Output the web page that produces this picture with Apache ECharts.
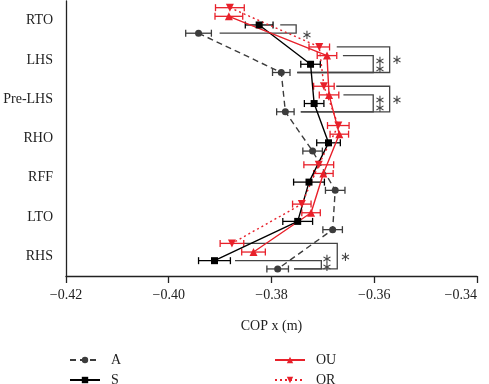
<!DOCTYPE html>
<html>
<head>
<meta charset="utf-8">
<script src="https://cdn.jsdelivr.net/npm/echarts@6/dist/echarts.min.js"></script>
<style>
    html, body {margin: 0; padding: 0; background: #fff;}
    #chart {width: 489px; height: 384px;}
</style>
</head>
<body>
<div id="chart"></div>
<script>
    // gait events, top to bottom
    const categories = ['RTO', 'LHS', 'Pre-LHS', 'RHO', 'RFF', 'LTO', 'RHS'];

    // mean COP x (m) and error for each condition
    const valuesA = [-0.3942, -0.3781, -0.3773, -0.3720, -0.3676, -0.3681, -0.3788];
    const errA = [0.0025, 0.0017, 0.0017, 0.0019, 0.0019, 0.0019, 0.0021];
    const valuesS = [-0.3824, -0.3724, -0.3717, -0.3689, -0.3727, -0.3749, -0.3911];
    const errS = [0.0027, 0.0019, 0.0019, 0.0023, 0.0030, 0.0029, 0.0031];
    const valuesOU = [-0.3883, -0.3692, -0.3688, -0.3668, -0.3699, -0.3723, -0.3835];
    const errOU = [0.0027, 0.0019, 0.0019, 0.0018, 0.0019, 0.0018, 0.0023];
    const valuesOR = [-0.3881, -0.3707, -0.3698, -0.3670, -0.3708, -0.3741, -0.3877];
    const errOR = [0.0028, 0.0020, 0.0020, 0.0021, 0.0029, 0.0018, 0.0023];

    const xTicks = [-0.42, -0.40, -0.38, -0.36, -0.34];

    // significance brackets: [category, top series, bottom series, x top start, x bottom start, x right]
    const brackets = [
        [0, 'S', 'A', -0.3783, -0.3901, -0.3752],
        [1, 'OR', 'A', -0.3673, -0.3750, -0.3570],
        [1, 'OU', 'A', -0.3661, -0.3750, -0.3602],
        [2, 'OR', 'A', -0.3674, -0.3743, -0.3570],
        [2, 'OU', 'A', -0.3660, -0.3743, -0.3602],
        [6, 'OR', 'A', -0.3855, -0.3756, -0.3672],
        [6, 'S', 'A', -0.3871, -0.3756, -0.3703]
    ];
    // asterisks: [x, category, position inside band, count]
    const stars = [
        [-0.3731, 0, 0.39, 1],
        [-0.3556, 1, 0.01, 1],
        [-0.3589, 1, 0.15, 2],
        [-0.3556, 2, 0.03, 1],
        [-0.3589, 2, 0.14, 2],
        [-0.3656, 6, 0.03, 1],
        [-0.3692, 6, 0.19, 2]
    ];

    // vertical offset of each condition inside a category band
    const level = {OR: -0.33, OU: -0.11, S: 0.11, A: 0.32};

    const red = '#e8202a';
    const gray = '#3c3c3c';
    const font = '"Liberation Serif", "DejaVu Serif", serif';

    function lineSeries(name, values, color, dash, symbol, size) {
        return {
            name: name,
            type: 'line',
            xAxisIndex: 0,
            yAxisIndex: 1,
            data: values.map((v, i) => [v, i + level[name]]),
            symbol: symbol,
            symbolSize: size,
            lineStyle: {color: color, width: 1.4, type: dash},
            itemStyle: {color: color},
            z: 4,
            animation: false
        };
    }

    function errorSeries(name, values, errs, color) {
        return {
            name: name + '-err',
            type: 'custom',
            xAxisIndex: 0,
            yAxisIndex: 1,
            dimensions: ['x', 'y', 'e'],
            encode: {x: 0, y: 1},
            data: values.map((v, i) => [v, i + level[name], errs[i]]),
            z: 3,
            animation: false,
            renderItem: function (params, api) {
                const x = api.value(0), y = api.value(1), e = api.value(2);
                const a = api.coord([x - e, y]);
                const b = api.coord([x + e, y]);
                const h = 3.5;
                const style = {stroke: color, lineWidth: 1.3, fill: null};
                return {
                    type: 'group',
                    children: [
                        {type: 'line', shape: {x1: a[0], y1: a[1], x2: b[0], y2: b[1]}, style: style},
                        {type: 'line', shape: {x1: a[0], y1: a[1] - h, x2: a[0], y2: a[1] + h}, style: style},
                        {type: 'line', shape: {x1: b[0], y1: b[1] - h, x2: b[0], y2: b[1] + h}, style: style}
                    ]
                };
            }
        };
    }

    function legendItem(name, left, top) {
        return {
            data: [name],
            left: left,
            top: top,
            itemWidth: 30,
            itemHeight: 8,
            textStyle: {fontFamily: font, fontSize: 14, color: '#222', padding: [0, 0, 0, 6]}
        };
    }

    const chart = echarts.init(document.getElementById('chart'));

    const option = {
        animation: false,
        grid: {left: 66, right: 12, top: 1, bottom: 108, outerBoundsMode: 'none'},
        legend: [
            legendItem('A', 64, 348),
            legendItem('S', 64, 368),
            legendItem('OU', 269, 348),
            legendItem('OR', 269, 368)
        ],
        xAxis: {
            type: 'value',
            min: xTicks[0],
            max: xTicks[xTicks.length - 1],
            interval: 0.02,
            name: 'COP x (m)',
            nameLocation: 'middle',
            nameGap: 43,
            nameTextStyle: {fontFamily: font, fontSize: 14, color: '#222'},
            splitLine: {show: false},
            axisLine: {show: true, onZero: false, lineStyle: {color: '#222', width: 1.3}},
            axisTick: {show: true, length: 7, lineStyle: {color: '#222', width: 1.3}},
            axisLabel: {
                fontFamily: font, fontSize: 14, color: '#222', margin: 12,
                alignMaxLabel: 'right',
                formatter: v => (v < 0 ? '\u2212' : '') + Math.abs(v).toFixed(2)
            }
        },
        yAxis: [
            {
                type: 'category',
                data: categories,
                inverse: true,
                boundaryGap: true,
                axisLine: {onZero: false, lineStyle: {color: '#222', width: 1.3}},
                axisTick: {alignWithLabel: true, length: 7, lineStyle: {color: '#222', width: 1.3}},
                axisLabel: {fontFamily: font, fontSize: 14, color: '#222', margin: 13},
                splitLine: {show: false}
            },
            {
                type: 'value',
                min: -0.5,
                max: 6.5,
                inverse: true,
                show: false
            }
        ],
        series: [
            lineSeries('A', valuesA, gray, [6, 4], 'circle', 7),
            lineSeries('S', valuesS, '#000', 'solid', 'rect', 7),
            lineSeries('OU', valuesOU, red, 'solid', 'triangle', 8),
            lineSeries('OR', valuesOR, red, [2, 3], 'path://M0,0 L10,0 L5,9 Z', 8),
            errorSeries('A', valuesA, errA, gray),
            errorSeries('S', valuesS, errS, '#000'),
            errorSeries('OU', valuesOU, errOU, red),
            errorSeries('OR', valuesOR, errOR, red),
            {
                name: 'brackets',
                type: 'custom',
                xAxisIndex: 0,
                yAxisIndex: 1,
                data: brackets.map(b => [b[3], b[0] + level[b[1]], b[4], b[0] + level[b[2]], b[5]]),
                encode: {x: 0, y: 1},
                z: 2,
                animation: false,
                renderItem: function (params, api) {
                    const p1 = api.coord([api.value(0), api.value(1)]);
                    const p2 = api.coord([api.value(4), api.value(1)]);
                    const p3 = api.coord([api.value(4), api.value(3)]);
                    const p4 = api.coord([api.value(2), api.value(3)]);
                    return {
                        type: 'polyline',
                        shape: {points: [p1, p2, p3, p4]},
                        style: {stroke: '#444', lineWidth: 1.3, fill: null}
                    };
                }
            },
            {
                name: 'stars',
                type: 'custom',
                xAxisIndex: 0,
                yAxisIndex: 1,
                data: stars.map(s => [s[0], s[1] + s[2], s[3]]),
                encode: {x: 0, y: 1},
                z: 2,
                animation: false,
                renderItem: function (params, api) {
                    const p = api.coord([api.value(0), api.value(1)]);
                    const n = api.value(2);
                    const children = [];
                    for (let k = 0; k < n; k++) {
                        const dy = n === 1 ? 0 : (k === 0 ? -4 : 4);
                        children.push({
                            type: 'text',
                            x: p[0],
                            y: p[1] + dy,
                            style: {
                                text: '\u2217', fill: '#444', fontSize: 13,
                                fontFamily: '"DejaVu Sans", sans-serif',
                                align: 'center', verticalAlign: 'middle'
                            }
                        });
                    }
                    return {type: 'group', children: children};
                }
            }
        ]
    };

    chart.setOption(option);
</script>
</body>
</html>
